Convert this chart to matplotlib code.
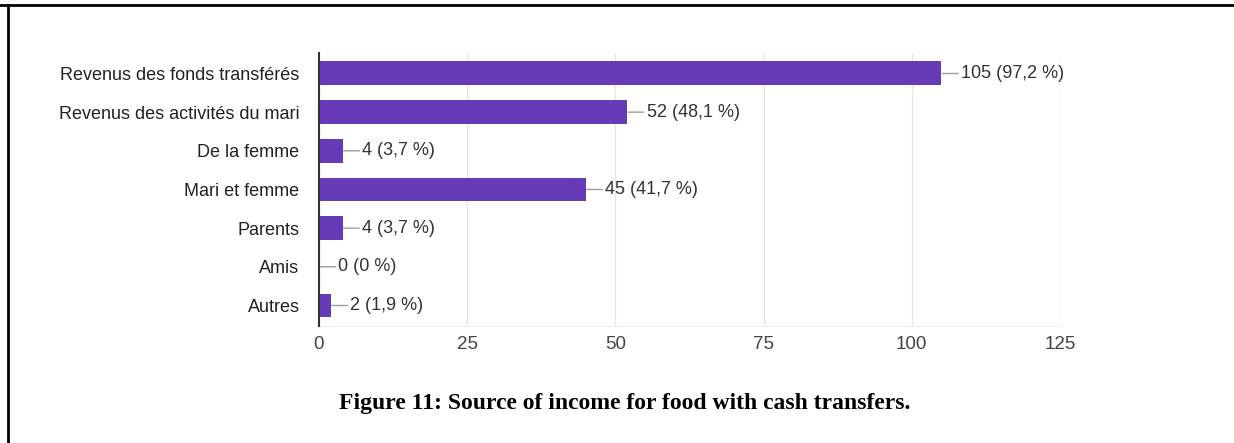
import matplotlib.pyplot as plt
from matplotlib.lines import Line2D

categories = [
    'Revenus des fonds transférés',
    'Revenus des activités du mari',
    'De la femme',
    'Mari et femme',
    'Parents',
    'Amis',
    'Autres',
]
counts = [105, 52, 4, 45, 4, 0, 2]
percents = ['97,2', '48,1', '3,7', '41,7', '3,7', '0', '1,9']
xticks = [0, 25, 50, 75, 100, 125]

fig = plt.figure(figsize=(12.34, 4.43), dpi=100)
ax = fig.add_axes([0.2585, 0.2641, 0.6005, 0.6163])

ypos = list(range(len(categories)))
ax.barh(ypos, counts, height=0.62, color='#673ab7', zorder=3)

# value labels with short leader lines
for y, c, p in zip(ypos, counts, percents):
    ax.annotate(f'{c} ({p} %)', xy=(c, y), xytext=(14, 0), textcoords='offset points',
                va='center', ha='left', fontsize=13, color='#333333',
                family='Liberation Sans',
                arrowprops=dict(arrowstyle='-', color='#9e9e9e', lw=1,
                                shrinkA=0, shrinkB=0.5))

ax.set_xlim(0, 125)
ax.set_ylim(6.53, -0.53)
ax.set_xticks(xticks)
ax.set_xticklabels([str(t) for t in xticks], fontsize=13.5, color='#444444',
                   family='Liberation Sans')
ax.set_yticks(ypos)
ax.set_yticklabels(categories, fontsize=13, color='#222222', family='Liberation Sans')
ax.tick_params(axis='both', length=0)
ax.tick_params(axis='x', pad=7)
ax.tick_params(axis='y', pad=14)

ax.grid(axis='x', color='#e6e6e6', lw=1, zorder=0)
for s in ['top', 'right']:
    ax.spines[s].set_visible(False)
ax.spines['bottom'].set_color('#eeeeee')
ax.spines['left'].set_color('#333333')
ax.spines['left'].set_linewidth(1.5)
ax.spines['left'].set_zorder(4)

fig.text(0.5065, 0.09, 'Figure 11: Source of income for food with cash transfers.',
         ha='center', va='center', fontsize=17, fontweight='bold',
         family='Liberation Serif', color='black')

# page frame: top rule and left rule
fig.add_artist(Line2D([0, 1], [1 - 5 / 443, 1 - 5 / 443], transform=fig.transFigure,
                      color='black', lw=2))
fig.add_artist(Line2D([7.5 / 1234, 7.5 / 1234], [0, 1 - 5 / 443], transform=fig.transFigure,
                      color='black', lw=2))

fig.savefig('out.png', dpi=100)
